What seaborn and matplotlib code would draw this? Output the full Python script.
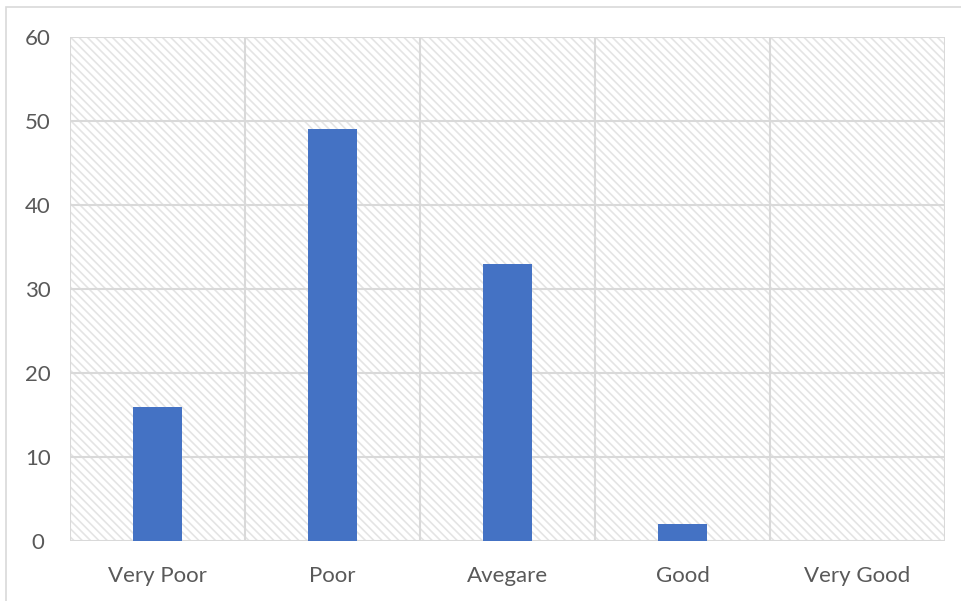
import matplotlib
matplotlib.use("Agg")
import matplotlib.pyplot as plt
from matplotlib.patches import Rectangle
import seaborn as sns
import pandas as pd

categories = ["Very Poor", "Poor", "Avegare", "Good", "Very Good"]
counts = [16, 49, 33, 2, 0]
y_ticks = [0, 10, 20, 30, 40, 50, 60]

sns.set_theme(style="white")
plt.rcParams["font.family"] = ["Lato", "DejaVu Sans"]
plt.rcParams["hatch.color"] = "#e4e4e4"
plt.rcParams["hatch.linewidth"] = 1.2

df = pd.DataFrame({"category": categories, "count": counts})

fig = plt.figure(figsize=(9.61, 6.01), dpi=100)
ax = fig.add_axes([70 / 961, 60 / 601, 875 / 961, 504 / 601])

# light frame around the whole chart
fig.patches.append(Rectangle((5.5 / 961, -0.05), 1.0, 1.05 - 7.5 / 601, transform=fig.transFigure,
                             fill=False, edgecolor="#d9d9d9", linewidth=1.2, zorder=0))

# diagonal-striped plot area background
ax.add_patch(Rectangle((0, 0), 1, 1, transform=ax.transAxes, facecolor="white",
                       hatch="\\\\\\\\", edgecolor="#e4e4e4", linewidth=0, zorder=0))

sns.barplot(data=df, x="category", y="count", color="#4472C4", width=0.275,
            saturation=1, linewidth=0, ax=ax, zorder=3)

ax.set_xlim(-0.5, len(categories) - 0.5)
ax.set_ylim(0, 60)
ax.set_yticks(y_ticks)
ax.set_yticklabels([str(t) for t in y_ticks])

# gridlines: horizontal at each tick, vertical between categories
for t in y_ticks:
    ax.axhline(t, color="#d9d9d9", linewidth=1.5, zorder=1)
for b in range(len(categories) + 1):
    ax.axvline(b - 0.5, color="#d9d9d9", linewidth=1.5, zorder=1)

for s in ax.spines.values():
    s.set_visible(False)

ax.set_xlabel("")
ax.set_ylabel("")
ax.tick_params(axis="both", length=0, labelsize=16, labelcolor="#595959")
ax.tick_params(axis="x", pad=18)
ax.tick_params(axis="y", pad=23)
for lbl in ax.get_yticklabels():
    lbl.set_horizontalalignment("center")

fig.savefig("out.png", dpi=100)
